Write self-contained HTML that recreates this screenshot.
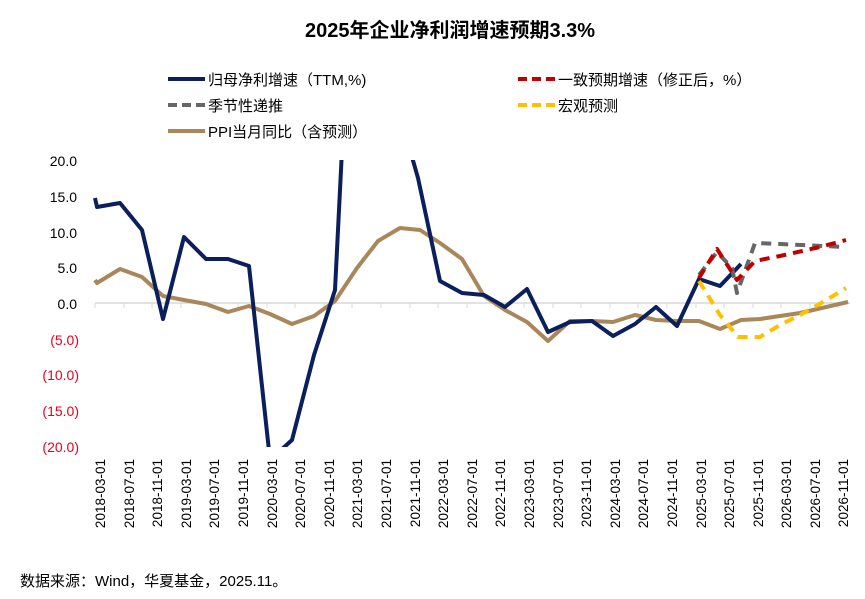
<!DOCTYPE html>
<html><head><meta charset="utf-8"><style>
html,body{margin:0;padding:0;background:#fff;}
svg{display:block;font-family:"Liberation Sans","Noto Sans CJK SC",sans-serif;}
</style></head><body>
<svg width="865" height="599" viewBox="0 0 865 599" xmlns="http://www.w3.org/2000/svg">
<defs><clipPath id="c"><rect x="90" y="160" width="775" height="287"/></clipPath></defs>
<text x="450" y="37" font-size="20" font-weight="bold" text-anchor="middle" fill="#000">2025年企业净利润增速预期3.3%</text>
<g font-size="15" fill="#000">
<line x1="168" y1="79" x2="205" y2="79" stroke="#0b1f5c" stroke-width="4"/>
<text x="208" y="85">归母净利增速（TTM,%)</text>
<line x1="518" y1="79" x2="555" y2="79" stroke="#c00000" stroke-width="4" stroke-dasharray="9,5"/>
<text x="558" y="85">一致预期增速（修正后，%）</text>
<line x1="168" y1="105" x2="205" y2="105" stroke="#666" stroke-width="4" stroke-dasharray="9,5"/>
<text x="208" y="111">季节性递推</text>
<line x1="518" y1="105" x2="555" y2="105" stroke="#ffc000" stroke-width="4" stroke-dasharray="9,5"/>
<text x="558" y="111">宏观预测</text>
<line x1="168" y1="131" x2="205" y2="131" stroke="#a8875a" stroke-width="4"/>
<text x="208" y="137">PPI当月同比（含预测）</text>
</g>
<g font-size="14" text-anchor="end">
<text x="77" y="166" fill="#000">20.0</text>
<text x="77" y="202" fill="#000">15.0</text>
<text x="77" y="238" fill="#000">10.0</text>
<text x="77" y="273" fill="#000">5.0</text>
<text x="77" y="309" fill="#000">0.0</text>
<text x="79" y="345" fill="#e8001c">(5.0)</text>
<text x="79" y="380" fill="#e8001c">(10.0)</text>
<text x="79" y="416" fill="#e8001c">(15.0)</text>
<text x="79" y="452" fill="#e8001c">(20.0)</text>
</g>
<line x1="95" y1="303" x2="850" y2="303" stroke="#d9d9d9" stroke-width="1.5"/>
<g stroke="#d9d9d9" stroke-width="1">
<line x1="95" y1="303" x2="95" y2="308"/><line x1="124" y1="303" x2="124" y2="308"/><line x1="152" y1="303" x2="152" y2="308"/><line x1="181" y1="303" x2="181" y2="308"/><line x1="209" y1="303" x2="209" y2="308"/><line x1="238" y1="303" x2="238" y2="308"/><line x1="267" y1="303" x2="267" y2="308"/><line x1="295" y1="303" x2="295" y2="308"/><line x1="324" y1="303" x2="324" y2="308"/><line x1="352" y1="303" x2="352" y2="308"/><line x1="381" y1="303" x2="381" y2="308"/><line x1="410" y1="303" x2="410" y2="308"/><line x1="438" y1="303" x2="438" y2="308"/><line x1="467" y1="303" x2="467" y2="308"/><line x1="495" y1="303" x2="495" y2="308"/><line x1="524" y1="303" x2="524" y2="308"/><line x1="553" y1="303" x2="553" y2="308"/><line x1="581" y1="303" x2="581" y2="308"/><line x1="610" y1="303" x2="610" y2="308"/><line x1="638" y1="303" x2="638" y2="308"/><line x1="667" y1="303" x2="667" y2="308"/><line x1="696" y1="303" x2="696" y2="308"/><line x1="724" y1="303" x2="724" y2="308"/><line x1="753" y1="303" x2="753" y2="308"/><line x1="781" y1="303" x2="781" y2="308"/><line x1="810" y1="303" x2="810" y2="308"/><line x1="838" y1="303" x2="838" y2="308"/>
</g>
<g clip-path="url(#c)" fill="none" stroke-linejoin="round">
<polyline stroke="#a8875a" stroke-width="4" points="95,280 97,283 120,269 142,277 163,296 184,300 206,304 228,312 249,306 270,314 292,324 314,316 335,301 357,268 378,241 400,228 420,230 440,243 462,259 484,296 505,310 527,322 548,341 570,321 592,321 613,322 635,315 656,320 677,321 699,321 720,329 741,320 760,319 800,313 848,302"/>
<polyline stroke="#0b1f5c" stroke-width="4" points="95,198 97,207 120,203 142,230 163,319 184,237 206,259 228,259 249,266 270,460 292,440 314,355 335,290 342,150 410,150 418,178 440,281 462,293 484,295 505,307 527,289 548,332 570,322 592,321 613,336 635,324 656,307 677,326 699,279 720,286 741,264"/>
<polyline stroke="#ffc000" stroke-width="4" stroke-dasharray="10,7" points="699,281 720,315 738,337 760,337 780,325 800,315 823,302 846,288"/>
<polyline stroke="#666" stroke-width="4" stroke-dasharray="10,7" points="699,275 717,252 732,268 737,293 755,243 780,244 845,247"/>
<polyline stroke="#c00000" stroke-width="4" stroke-dasharray="10,7" points="699,278 717,249 737,280 755,261 780,256 820,247 846,240"/>
</g>
<g font-size="13.5" fill="#000" text-anchor="end">
<text transform="translate(105,459) rotate(-90)">2018-03-01</text>
<text transform="translate(134,459) rotate(-90)">2018-07-01</text>
<text transform="translate(162,459) rotate(-90)">2018-11-01</text>
<text transform="translate(191,459) rotate(-90)">2019-03-01</text>
<text transform="translate(219,459) rotate(-90)">2019-07-01</text>
<text transform="translate(248,459) rotate(-90)">2019-11-01</text>
<text transform="translate(277,459) rotate(-90)">2020-03-01</text>
<text transform="translate(305,459) rotate(-90)">2020-07-01</text>
<text transform="translate(334,459) rotate(-90)">2020-11-01</text>
<text transform="translate(362,459) rotate(-90)">2021-03-01</text>
<text transform="translate(391,459) rotate(-90)">2021-07-01</text>
<text transform="translate(420,459) rotate(-90)">2021-11-01</text>
<text transform="translate(448,459) rotate(-90)">2022-03-01</text>
<text transform="translate(477,459) rotate(-90)">2022-07-01</text>
<text transform="translate(505,459) rotate(-90)">2022-11-01</text>
<text transform="translate(534,459) rotate(-90)">2023-03-01</text>
<text transform="translate(563,459) rotate(-90)">2023-07-01</text>
<text transform="translate(591,459) rotate(-90)">2023-11-01</text>
<text transform="translate(620,459) rotate(-90)">2024-03-01</text>
<text transform="translate(648,459) rotate(-90)">2024-07-01</text>
<text transform="translate(677,459) rotate(-90)">2024-11-01</text>
<text transform="translate(706,459) rotate(-90)">2025-03-01</text>
<text transform="translate(734,459) rotate(-90)">2025-07-01</text>
<text transform="translate(763,459) rotate(-90)">2025-11-01</text>
<text transform="translate(791,459) rotate(-90)">2026-03-01</text>
<text transform="translate(820,459) rotate(-90)">2026-07-01</text>
<text transform="translate(848,459) rotate(-90)">2026-11-01</text>
</g>
<text x="20" y="586" font-size="15" fill="#000">数据来源：Wind，华夏基金，2025.11。</text>
</svg>
</body></html>
